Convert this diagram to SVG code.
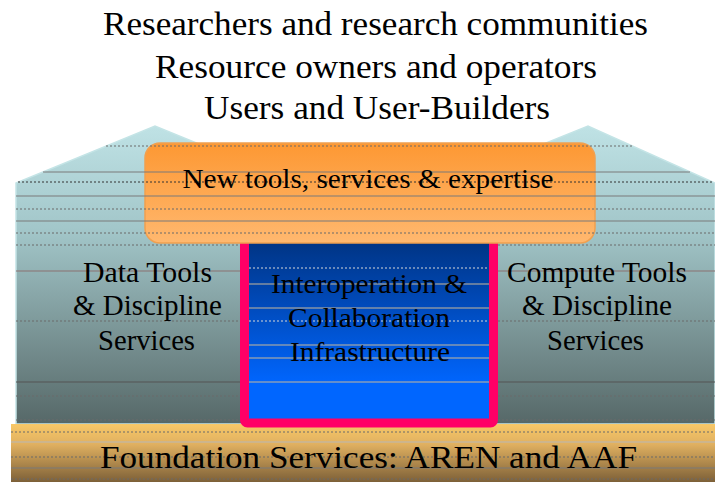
<svg xmlns="http://www.w3.org/2000/svg" width="715" height="482" viewBox="0 0 715 482">
<defs>
<linearGradient id="gHouse" x1="0" y1="0" x2="0" y2="1">
<stop offset="0" stop-color="#bfe2e5"/>
<stop offset="0.35" stop-color="#a2c6c9"/>
<stop offset="1" stop-color="#566868"/>
</linearGradient>
<linearGradient id="gOrange" x1="0" y1="0" x2="0" y2="1">
<stop offset="0" stop-color="#fd9833"/>
<stop offset="1" stop-color="#ffb86f"/>
</linearGradient>
<linearGradient id="gBlue" x1="0" y1="0" x2="0" y2="1">
<stop offset="0" stop-color="#00307a"/>
<stop offset="0.8" stop-color="#0066ff"/>
<stop offset="1" stop-color="#0066ff"/>
</linearGradient>
<linearGradient id="gFound" x1="0" y1="0" x2="0" y2="1">
<stop offset="0" stop-color="#f8c868"/>
<stop offset="0.35" stop-color="#e0b060"/>
<stop offset="1" stop-color="#7d6038"/>
</linearGradient>
</defs>
<rect width="715" height="482" fill="#fff"/>

<g id="house">
<polygon points="16,424 16,183 155,126 370,214 588,126 715,183 715,424" fill="url(#gHouse)" stroke="#c4e4e6" stroke-width="1.5"/>
</g>

<g id="foundation">
<rect x="11" y="424" width="704" height="58" fill="url(#gFound)"/>
<g stroke="#6a6a6a" stroke-width="1" stroke-dasharray="2 2">
<line x1="11" y1="432" x2="715" y2="432"/>
<line x1="11" y1="457" x2="715" y2="457"/>
<line x1="11" y1="479" x2="715" y2="479"/>
</g>
<line x1="11" y1="442" x2="715" y2="442" stroke="#b8b8b8" stroke-width="1.2"/>
<line x1="11" y1="468" x2="715" y2="468" stroke="#7a7a7a" stroke-width="1.2"/>
</g>

<g id="infrastructure">
<rect x="244.5" y="230" width="249" height="193" rx="3" fill="url(#gBlue)" stroke="#ff0066" stroke-width="9"/>
<g stroke="#d8d8d8" stroke-width="1" stroke-dasharray="2 2">
<line x1="249" y1="268" x2="489" y2="268"/>
<line x1="249" y1="321" x2="489" y2="321"/>
</g>
<g stroke="#c8b89a" stroke-width="1.2">
<line x1="249" y1="284" x2="489" y2="284"/>
<line x1="249" y1="308" x2="489" y2="308"/>
<line x1="249" y1="345" x2="489" y2="345"/>
<line x1="249" y1="358" x2="489" y2="358"/>
<line x1="249" y1="382" x2="489" y2="382"/>
</g>
<text x="369" y="293" font-family="Liberation Serif" font-size="28" text-anchor="middle" textLength="196" lengthAdjust="spacingAndGlyphs">Interoperation &amp;</text>
<text x="369" y="327" font-family="Liberation Serif" font-size="28" text-anchor="middle" textLength="162" lengthAdjust="spacingAndGlyphs">Collaboration</text>
<text x="370" y="361" font-family="Liberation Serif" font-size="28" text-anchor="middle" textLength="160" lengthAdjust="spacingAndGlyphs">Infrastructure</text>
</g>

<g id="newtools">
<rect x="145" y="143" width="450" height="100" rx="15" fill="url(#gOrange)" stroke="#f0a050" stroke-width="1.5"/>
</g>

<g id="lines">
<g stroke="#6a6a6a" stroke-width="1" stroke-dasharray="2 2">
<line x1="106" y1="146" x2="633" y2="146"/>
<line x1="18" y1="182" x2="713" y2="182" stroke="#333"/>
<line x1="16" y1="209" x2="715" y2="209"/>
<line x1="16" y1="233" x2="715" y2="233"/>
<line x1="16" y1="245" x2="240" y2="245"/>
<line x1="498" y1="245" x2="715" y2="245"/>
<line x1="16" y1="321" x2="240" y2="321"/>
<line x1="498" y1="321" x2="715" y2="321"/>
<line x1="16" y1="396" x2="240" y2="396"/>
<line x1="498" y1="396" x2="715" y2="396"/>
<line x1="16" y1="420" x2="240" y2="420"/>
<line x1="498" y1="420" x2="715" y2="420"/>
</g>
<g stroke="#7a7a7a" stroke-width="1.2">
<line x1="43" y1="172" x2="690" y2="172"/>
<line x1="16" y1="196" x2="715" y2="196"/>
<line x1="16" y1="221" x2="715" y2="221"/>
<line x1="16" y1="271" x2="240" y2="271" stroke="#8a7070"/>
<line x1="498" y1="271" x2="715" y2="271" stroke="#8a7070"/>
<line x1="16" y1="382" x2="240" y2="382" stroke="#555"/>
<line x1="498" y1="382" x2="715" y2="382" stroke="#555"/>
</g>
</g>

<g id="newtools-label">
<text x="368" y="188" font-family="Liberation Serif" font-size="28" text-anchor="middle" textLength="371" lengthAdjust="spacingAndGlyphs">New tools, services &amp; expertise</text>
</g>

<g id="datatools">
<text x="147.5" y="282" font-family="Liberation Serif" font-size="29" text-anchor="middle" textLength="129" lengthAdjust="spacingAndGlyphs">Data Tools</text>
<text x="147.5" y="315" font-family="Liberation Serif" font-size="29" text-anchor="middle" textLength="149" lengthAdjust="spacingAndGlyphs">&amp; Discipline</text>
<text x="146.5" y="350" font-family="Liberation Serif" font-size="29" text-anchor="middle" textLength="97" lengthAdjust="spacingAndGlyphs">Services</text>
</g>

<g id="computetools">
<text x="597" y="282" font-family="Liberation Serif" font-size="29" text-anchor="middle" textLength="180" lengthAdjust="spacingAndGlyphs">Compute Tools</text>
<text x="597" y="315" font-family="Liberation Serif" font-size="29" text-anchor="middle" textLength="150" lengthAdjust="spacingAndGlyphs">&amp; Discipline</text>
<text x="595.5" y="350" font-family="Liberation Serif" font-size="29" text-anchor="middle" textLength="97" lengthAdjust="spacingAndGlyphs">Services</text>
</g>

<g id="foundation-label">
<text x="368.5" y="468" font-family="Liberation Serif" font-size="32" text-anchor="middle" textLength="537" lengthAdjust="spacingAndGlyphs">Foundation Services: AREN and AAF</text>
</g>

<g id="audiences">
<text x="375.5" y="35" font-family="Liberation Serif" font-size="33" text-anchor="middle" textLength="545" lengthAdjust="spacingAndGlyphs">Researchers and research communities</text>
<text x="376" y="78" font-family="Liberation Serif" font-size="33" text-anchor="middle" textLength="442" lengthAdjust="spacingAndGlyphs">Resource owners and operators</text>
<text x="377" y="119" font-family="Liberation Serif" font-size="33" text-anchor="middle" textLength="346" lengthAdjust="spacingAndGlyphs">Users and User-Builders</text>
</g>
</svg>
